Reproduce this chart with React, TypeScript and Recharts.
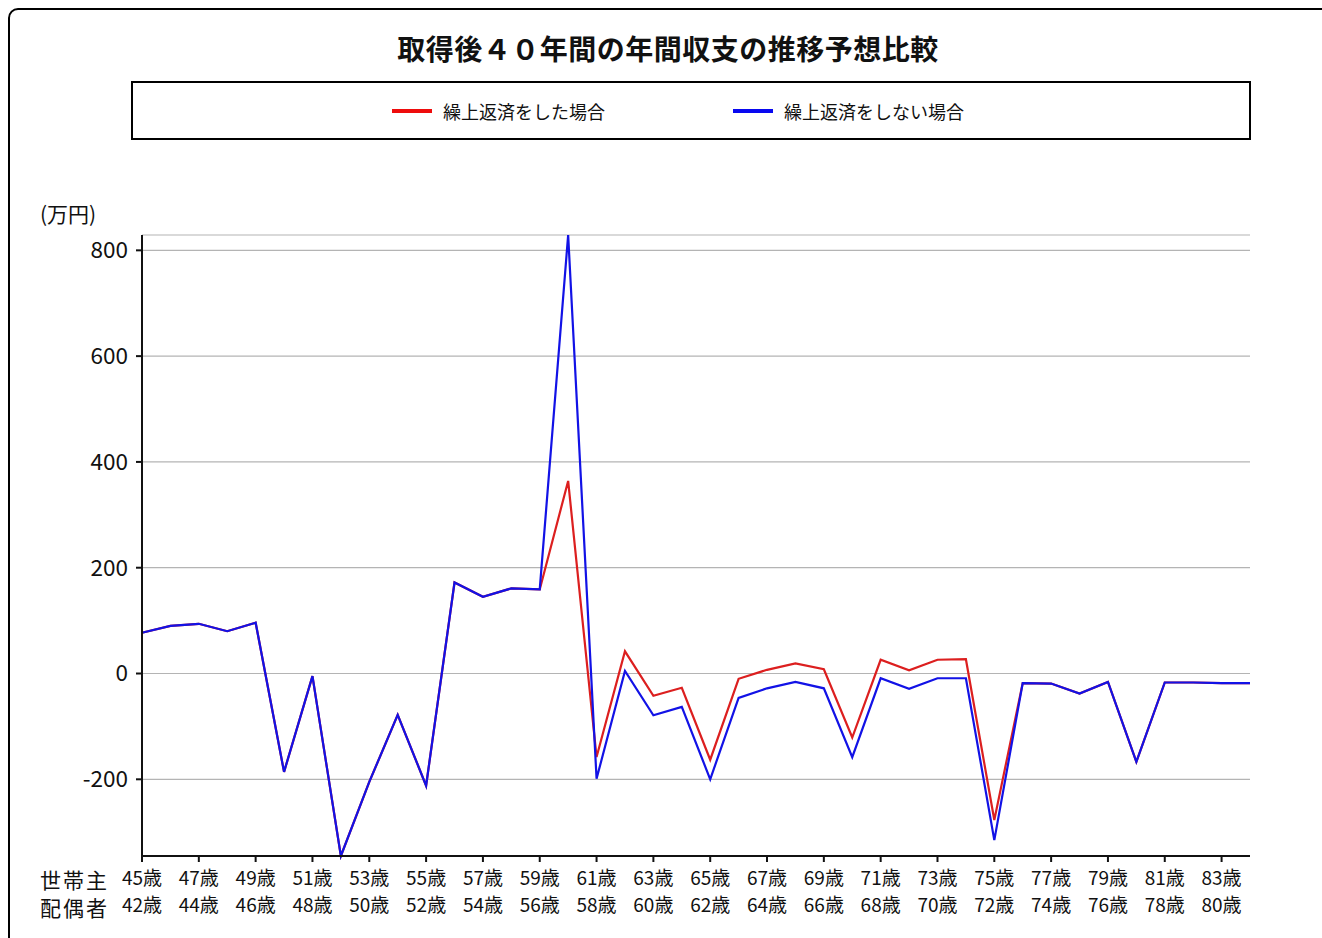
import React from 'react';
import { LineChart, Line, XAxis, YAxis, CartesianGrid } from 'recharts';

const householderAges = ['45歳','46歳','47歳','48歳','49歳','50歳','51歳','52歳','53歳','54歳','55歳','56歳','57歳','58歳','59歳','60歳','61歳','62歳','63歳','64歳','65歳','66歳','67歳','68歳','69歳','70歳','71歳','72歳','73歳','74歳','75歳','76歳','77歳','78歳','79歳','80歳','81歳','82歳','83歳','84歳'];
const spouseAges = ['42歳','43歳','44歳','45歳','46歳','47歳','48歳','49歳','50歳','51歳','52歳','53歳','54歳','55歳','56歳','57歳','58歳','59歳','60歳','61歳','62歳','63歳','64歳','65歳','66歳','67歳','68歳','69歳','70歳','71歳','72歳','73歳','74歳','75歳','76歳','77歳','78歳','79歳','80歳','81歳'];
const withPrepayment = [77,90,94,80,96,-186,-5,-345,-205,-78,-212,172,145,161,159,364,-158,42,-42,-27,-163,-10,7,19,8,-121,26,6,26,27,-277,-18,-19,-38,-16,-167,-17,-17,-18,-18];
const withoutPrepayment = [77,90,94,80,96,-186,-5,-345,-205,-78,-212,172,145,161,159,829,-199,5,-79,-63,-200,-46,-28,-16,-28,-158,-9,-29,-9,-9,-315,-18,-19,-38,-16,-167,-17,-17,-18,-18];
const yTicks = [-200, 0, 200, 400, 600, 800];

const seriesNames = ['繰上返済をした場合', '繰上返済をしない場合'];
const seriesColors = ['#dc1f1f', '#1212e6'];
const swatchColors = ['#ee0c0c', '#0808f0'];
const rowLabels = ['世帯主', '配偶者'];

const data = householderAges.map((a, i) => ({
  age: a,
  spouse: spouseAges[i],
  withPre: withPrepayment[i],
  withoutPre: withoutPrepayment[i],
}));

const FONT = '"Noto Sans CJK JP", "Noto Sans", sans-serif';

const XTick = (props: any) => {
  const { x, y, payload } = props;
  const idx = householderAges.indexOf(payload.value);
  return (
    <g>
      <text x={x} y={y + 21} textAnchor="middle" fontSize={19} fill="#111" fontFamily={FONT}>{payload.value}</text>
      <text x={x} y={y + 48} textAnchor="middle" fontSize={19} fill="#111" fontFamily={FONT}>{spouseAges[idx]}</text>
    </g>
  );
};

export default function App() {
  return (
    <div style={{ position: 'fixed', left: 0, top: 0, width: 1322, height: 938, overflow: 'hidden', background: '#fff', fontFamily: FONT }}>
      <div style={{ position: 'absolute', left: 8, top: 8, width: 1340, height: 960, border: '2px solid #000', borderRadius: 10, boxSizing: 'border-box' }} />
      <div style={{ position: 'absolute', left: 0, width: 1336, top: 30, textAlign: 'center', fontSize: 28, fontWeight: 700, lineHeight: '36px', color: '#111', letterSpacing: 0.5 }}>
        取得後４０年間の年間収支の推移予想比較
      </div>
      <div style={{ position: 'absolute', left: 131, top: 81, width: 1120, height: 59, border: '2px solid #000', boxSizing: 'border-box' }}>
        {seriesNames.map((n, i) => (
          <div key={n} style={{ position: 'absolute', left: i === 0 ? 259 : 600, top: 16, display: 'flex', alignItems: 'center', height: 24 }}>
            <div style={{ width: 40, height: 4, background: swatchColors[i], marginRight: 11 }} />
            <span style={{ fontSize: 18, color: '#111', lineHeight: '24px' }}>{n}</span>
          </div>
        ))}
      </div>
      <div style={{ position: 'absolute', left: 40, top: 199, fontSize: 21, lineHeight: '28px', color: '#111' }}>(万円)</div>
      <div style={{ position: 'absolute', left: 40, top: 865, fontSize: 21, lineHeight: '28px', letterSpacing: 2, color: '#111' }}>{rowLabels[0]}</div>
      <div style={{ position: 'absolute', left: 40, top: 893, fontSize: 21, lineHeight: '28px', letterSpacing: 2, color: '#111' }}>{rowLabels[1]}</div>
      <div style={{ position: 'absolute', left: 0, top: 0 }}>
        <LineChart width={1322} height={938} data={data} margin={{ top: 235, right: 72, bottom: 22, left: 72 }}>
          <CartesianGrid vertical={false} stroke="#b4b4b4" strokeWidth={1.2} />
          <XAxis
            dataKey="age"
            interval={1}
            height={60}
            axisLine={{ stroke: '#111', strokeWidth: 2 }}
            tickLine={{ stroke: '#111', strokeWidth: 2 }}
            tickSize={6}
            tick={<XTick />}
          />
          <YAxis
            type="number"
            width={70}
            domain={['dataMin', 'dataMax']}
            ticks={yTicks}
            interval={0}
            axisLine={{ stroke: '#111', strokeWidth: 2 }}
            tickLine={{ stroke: '#111', strokeWidth: 2 }}
            tickSize={6}
            tickMargin={8}
            tick={{ fontSize: 22.5, fill: '#111', fontFamily: FONT }}
          />
          <Line type="linear" dataKey="withPre" name={seriesNames[0]} stroke={seriesColors[0]} strokeWidth={2.2} dot={false} isAnimationActive={false} />
          <Line type="linear" dataKey="withoutPre" name={seriesNames[1]} stroke={seriesColors[1]} strokeWidth={2.2} dot={false} isAnimationActive={false} />
        </LineChart>
      </div>
    </div>
  );
}
